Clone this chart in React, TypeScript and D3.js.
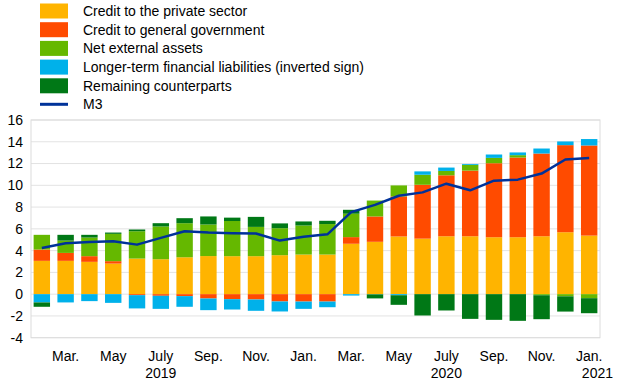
import React from "react";
import * as d3 from "d3";

const months = ["2019-02","2019-03","2019-04","2019-05","2019-06","2019-07","2019-08","2019-09","2019-10","2019-11","2019-12","2020-01","2020-02","2020-03","2020-04","2020-05","2020-06","2020-07","2020-08","2020-09","2020-10","2020-11","2020-12","2021-01"];
const creditPrivate = [3.06,3.06,2.97,2.81,3.27,3.21,3.39,3.5,3.49,3.49,3.58,3.64,3.64,4.63,4.81,5.3,5.1,5.32,5.32,5.23,5.23,5.32,5.69,5.38];
const creditGov = [1.04,0.73,0.52,0.22,-0.09,-0.15,-0.18,-0.4,-0.46,-0.49,-0.67,-0.68,-0.68,0.61,2.33,3.68,4.95,5.6,6.03,6.8,7.32,7.6,8.0,8.28];
const netExternal = [1.35,1.13,1.71,2.51,2.51,3.01,3.13,2.9,3.23,2.69,2.48,2.67,2.8,2.15,1.46,1.01,0.92,0.4,0.53,0.49,0.22,-0.1,-0.2,-0.37];
const longerTerm = [-0.76,-0.76,-0.64,-0.8,-1.22,-1.2,-0.98,-1.07,-0.95,-1.04,-0.92,-0.67,-0.52,-0.13,-0.02,-0.1,0.31,0.31,0.08,0.31,0.25,0.46,0.34,0.59];
const remaining = [-0.4,0.53,0.25,0.12,0.16,0.3,0.46,0.74,0.31,0.92,0.44,0.37,0.3,0.36,-0.37,-0.88,-1.96,-1.5,-2.27,-2.36,-2.45,-2.2,-1.4,-1.38];
const m3 = [4.25,4.68,4.8,4.86,4.55,5.17,5.78,5.66,5.6,5.57,4.92,5.28,5.5,7.54,8.2,9.04,9.35,10.15,9.54,10.43,10.52,11.08,12.37,12.52];

const yTicks = [-4,-2,0,2,4,6,8,10,12,14,16];
const monthTicks: { month: string; label: string }[] = [
  { month: "2019-03", label: "Mar." },
  { month: "2019-05", label: "May" },
  { month: "2019-07", label: "July" },
  { month: "2019-09", label: "Sep." },
  { month: "2019-11", label: "Nov." },
  { month: "2020-01", label: "Jan." },
  { month: "2020-03", label: "Mar." },
  { month: "2020-05", label: "May" },
  { month: "2020-07", label: "July" },
  { month: "2020-09", label: "Sep." },
  { month: "2020-11", label: "Nov." },
  { month: "2021-01", label: "Jan." },
];
const yearTicks = [
  { month: "2019-07", label: "2019" },
  { month: "2020-07", label: "2020" },
  { month: "2021-01", label: "2021" },
];

const seriesKeys = ["private", "gov", "nea", "ltfl", "rem"];
const seriesNames = [
  "Credit to the private sector",
  "Credit to general government",
  "Net external assets",
  "Longer-term financial liabilities (inverted sign)",
  "Remaining counterparts",
];
const seriesColors = ["#FFB400", "#FF4B00", "#65B800", "#00B1EA", "#007816"];
const m3Color = "#003299";

const W = 620;
const H = 387;
const plot = { left: 31, right: 600, top: 120, bottom: 337.7 };
const FONT = "'Liberation Sans', Arial, Helvetica, sans-serif";

export default function App() {
  const rows = months.map((m, i) => ({
    month: m,
    private: creditPrivate[i],
    gov: creditGov[i],
    nea: netExternal[i],
    ltfl: longerTerm[i],
    rem: remaining[i],
  }));
  const stack = d3
    .stack<any>()
    .keys(seriesKeys)
    .offset(d3.stackOffsetDiverging);
  const stacked = stack(rows);

  const x = d3
    .scaleBand<string>()
    .domain(months)
    .range([plot.left, plot.right])
    .paddingInner(0.31)
    .paddingOuter(0.11);
  const y = d3.scaleLinear().domain([-4, 16]).range([plot.bottom, plot.top]);

  const line = d3
    .line<number>()
    .x((_, i) => (x(months[i]) as number) + x.bandwidth() / 2)
    .y((d) => y(d));

  const xc = (m: string) => (x(m) as number) + x.bandwidth() / 2;

  return (
    <svg
      width={W}
      height={H}
      style={{ position: "absolute", left: 0, top: 0, background: "#fff" }}
      fontFamily={FONT}
    >
      {/* legend */}
      {seriesNames.map((name, i) => (
        <g key={name}>
          <rect x={40} y={3.5 + i * 18.7} width={28} height={15} fill={seriesColors[i]} />
          <text x={83} y={11 + i * 18.7} dy="0.35em" fontSize={14} fill="#000">
            {name}
          </text>
        </g>
      ))}
      <line x1={40} x2={68} y1={104.3} y2={104.3} stroke={m3Color} strokeWidth={3} />
      <text x={83} y={104.3} dy="0.35em" fontSize={14} fill="#000">
        M3
      </text>

      {/* gridlines */}
      {yTicks.map((t) => (
        <line
          key={t}
          x1={plot.left}
          x2={plot.right}
          y1={y(t)}
          y2={y(t)}
          stroke="#e3e3e3"
          strokeWidth={1}
        />
      ))}
      <rect
        x={plot.left}
        y={plot.top}
        width={plot.right - plot.left}
        height={plot.bottom - plot.top}
        fill="none"
        stroke="#dcdcdc"
        strokeWidth={1}
      />
      {yTicks.map((t) => (
        <text
          key={t}
          x={23}
          y={y(t)}
          dy="0.35em"
          textAnchor="end"
          fontSize={14}
          fill="#000"
        >
          {t}
        </text>
      ))}

      {/* bars */}
      {stacked.map((s, si) => (
        <g key={s.key} fill={seriesColors[si]}>
          {s.map((d, i) => {
            const y0 = y(d[0]);
            const y1 = y(d[1]);
            return (
              <rect
                key={i}
                x={x(months[i])}
                y={Math.min(y0, y1)}
                width={x.bandwidth()}
                height={Math.abs(y0 - y1)}
              />
            );
          })}
        </g>
      ))}

      {/* M3 line */}
      <path d={line(m3) || ""} fill="none" stroke={m3Color} strokeWidth={2.5} strokeLinejoin="round" />

      {/* x labels */}
      {monthTicks.map((t, i) => (
        <text key={i} x={xc(t.month)} y={361} textAnchor="middle" fontSize={14} fill="#000">
          {t.label}
        </text>
      ))}
      {yearTicks.map((t, i) => (
        <text
          key={i}
          x={i === 2 ? 613 : xc(t.month)}
          y={378}
          textAnchor={i === 2 ? "end" : "middle"}
          fontSize={14}
          fill="#000"
        >
          {t.label}
        </text>
      ))}
    </svg>
  );
}
